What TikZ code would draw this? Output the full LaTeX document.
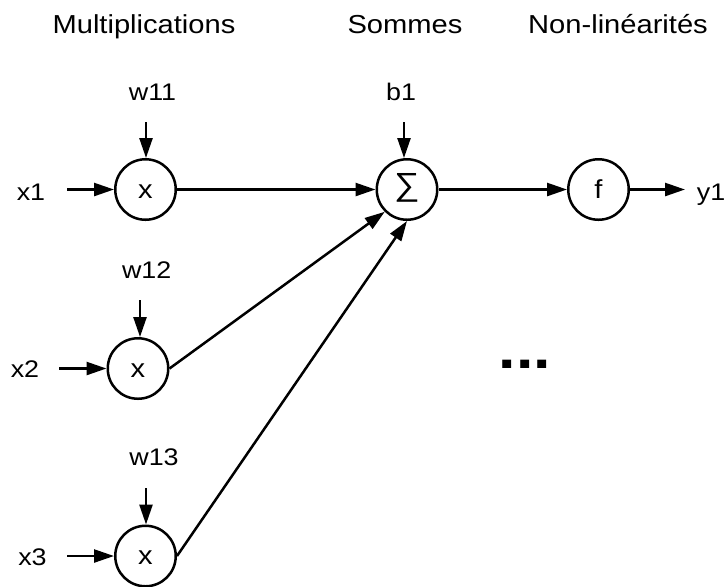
\documentclass[tikz,border=0pt]{standalone}
\usepackage{fontspec}
\setmainfont{Liberation Sans}[FakeStretch=1.12]
\usetikzlibrary{arrows.meta}
\begin{document}
\begin{tikzpicture}[x=0.5pt,y=-0.5pt,
  op/.style={circle, draw, line width=1.25pt, minimum size=30.25pt, inner sep=0pt,
    font=\fontsize{13}{15}\selectfont, text height=0.86em, text depth=0pt},
  lbl/.style={font=\fontsize{12}{14}\selectfont, anchor=base, inner sep=0pt},
  ttl/.style={font=\fontsize{13}{15}\selectfont, anchor=base, inner sep=0pt},
  arr/.style={line width=1.25pt, -{Triangle[length=10pt,width=6.5pt]}}]

\useasboundingbox (0,0) rectangle (727,586);

% column titles
\node[ttl] (tmul) at (144,33.3) {Multiplications};
\node[ttl] (tsom) at (405,33.3) {Sommes};
\node[ttl] (tnon) at (618,33.3) {Non-linéarités};

% operators
\node[op] (m1) at (145.5,189.5) {x};
\node[op] (m2) at (138,368.5) {x};
\node[op] (m3) at (145.5,556) {x};
\node[op, font=\fontsize{16}{18}\selectfont, text height=0.55em] (sum) at (407,189.5) {∑};
\node[op] (f) at (598.5,189.5) {f};

% inputs, weights, bias and output
\node[lbl] (tw11) at (152.5,100) {w11};
\node[lbl] (tb1) at (401,100) {b1};
\node[lbl] (tw12) at (146.7,278) {w12};
\node[lbl] (tw13) at (154,465) {w13};
\node[lbl] (tx1) at (31,200) {x1};
\node[lbl] (tx2) at (25,377) {x2};
\node[lbl] (tx3) at (32.5,565) {x3};
\node[lbl] (ty1) at (711,200.7) {y1};

\node[anchor=base, inner sep=0pt, font=\fontsize{28}{30}\selectfont\bfseries] (dots) at (525,368) {...};

% free ends of the connectors
\coordinate (x1s) at (67,189.5);
\coordinate (x2s) at (59,368.5);
\coordinate (x3s) at (67,556);
\coordinate (w11s) at (146,122);
\coordinate (w12s) at (140,300);
\coordinate (w13s) at (146,488);
\coordinate (b1s) at (404,122);
\coordinate (ye) at (685,189.5);

\draw[arr] (x1s) -- (m1.west);
\draw[arr] (x2s) -- (m2.west);
\draw[arr] (x3s) -- (m3.west);
\draw[arr] (w11s) -- (w11s |- m1.north);
\draw[arr] (w12s) -- (w12s |- m2.north);
\draw[arr] (w13s) -- (w13s |- m3.north);
\draw[arr] (b1s) -- (b1s |- sum.north);

\draw[arr] (m1) -- (sum);
\draw[arr] (m2.east) -- (sum.south west);
\draw[arr] (m3.east) -- (sum.south);
\draw[arr] (sum) -- (f);
\draw[arr] (f) -- (ye);
\end{tikzpicture}
\end{document}
